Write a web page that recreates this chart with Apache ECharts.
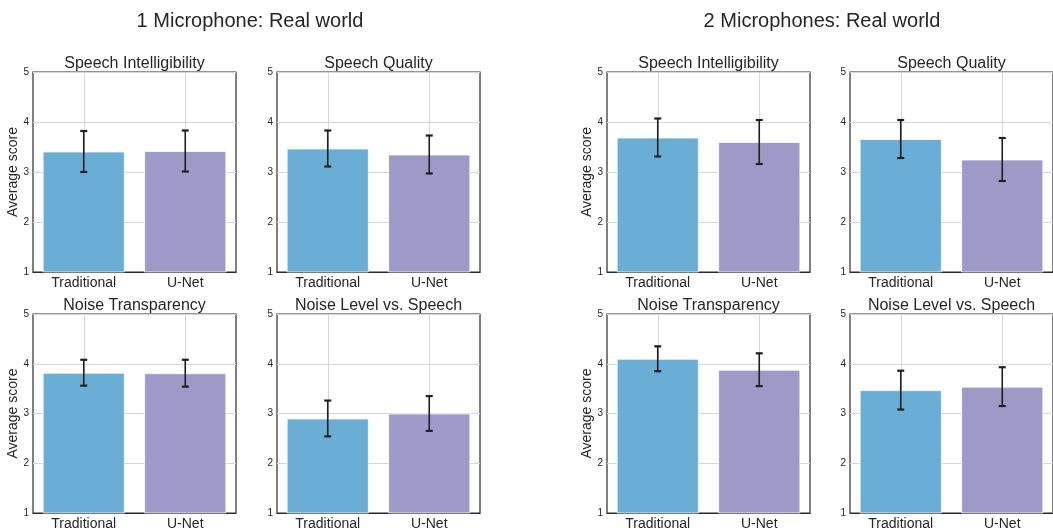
<!DOCTYPE html>
<html><head><meta charset="utf-8">
<script src="https://cdn.jsdelivr.net/npm/echarts@6/dist/echarts.min.js"></script>
<style>html,body{margin:0;padding:0;background:#fff}#c{width:1053px;height:531px}</style>
</head><body><div id="c"></div>
<script>
const categories = ['Traditional', 'U-Net'];
const groupTitles = ['1 Microphone: Real world', '2 Microphones: Real world'];
const panelTitles = ['Speech Intelligibility', 'Speech Quality', 'Noise Transparency', 'Noise Level vs. Speech'];
const yTicks = [1, 2, 3, 4, 5];
const yLabel = 'Average score';
// values: [Traditional, U-Net]
const mic1Intelligibility = [3.41, 3.42], mic1IntelligibilityErr = [0.41, 0.41];
const mic1Quality = [3.47, 3.35], mic1QualityErr = [0.36, 0.38];
const mic1Transparency = [3.82, 3.81], mic1TransparencyErr = [0.26, 0.27];
const mic1NoiseLevel = [2.90, 3.00], mic1NoiseLevelErr = [0.36, 0.35];
const mic2Intelligibility = [3.69, 3.60], mic2IntelligibilityErr = [0.38, 0.44];
const mic2Quality = [3.66, 3.25], mic2QualityErr = [0.38, 0.43];
const mic2Transparency = [4.10, 3.88], mic2TransparencyErr = [0.25, 0.33];
const mic2NoiseLevel = [3.47, 3.54], mic2NoiseLevelErr = [0.39, 0.39];

const barColors = ['#6aaed6', '#9e9ac8'];
const panels = [
  {v: mic1Intelligibility, e: mic1IntelligibilityErr, t: 0, col: 0, row: 0},
  {v: mic1Quality, e: mic1QualityErr, t: 1, col: 1, row: 0},
  {v: mic1Transparency, e: mic1TransparencyErr, t: 2, col: 0, row: 1},
  {v: mic1NoiseLevel, e: mic1NoiseLevelErr, t: 3, col: 1, row: 1},
  {v: mic2Intelligibility, e: mic2IntelligibilityErr, t: 0, col: 2, row: 0},
  {v: mic2Quality, e: mic2QualityErr, t: 1, col: 3, row: 0},
  {v: mic2Transparency, e: mic2TransparencyErr, t: 2, col: 2, row: 1},
  {v: mic2NoiseLevel, e: mic2NoiseLevelErr, t: 3, col: 3, row: 1}
];
const colLeft = [33, 277, 607, 850];
const colWidth = 203;
const rowTop = [72, 314];
const rowHeight = 200;
const textColor = '#262626';
const font = 'Liberation Sans, Arial, sans-serif';

const grid = [], xAxis = [], yAxis = [], series = [], graphic = [];
panels.forEach((p, i) => {
  grid.push({left: colLeft[p.col], top: rowTop[p.row], width: colWidth, height: rowHeight,
    show: true, borderColor: '#2b2b2b', borderWidth: 1.2, backgroundColor: '#fff'});
  xAxis.push({type: 'category', gridIndex: i, data: categories,
    axisLine: {show: true, lineStyle: {color: '#2b2b2b', width: 1.2}},
    axisTick: {show: false},
    axisLabel: {color: textColor, fontSize: 14, fontFamily: font, margin: 4},
    splitLine: {show: true, alignWithLabel: true, lineStyle: {color: '#d6d6d6', width: 1}}
  });
  yAxis.push({type: 'value', gridIndex: i, min: yTicks[0], max: yTicks[yTicks.length - 1], interval: 1,
    name: p.col % 2 === 0 ? yLabel : '', nameLocation: 'middle', nameGap: 13, nameMoveOverlap: false,
    nameTextStyle: {color: textColor, fontSize: 14, fontFamily: font},
    axisLine: {show: false}, axisTick: {show: false},
    axisLabel: {color: textColor, fontSize: 10, fontFamily: font, margin: 4},
    splitLine: {show: true, lineStyle: {color: '#d6d6d6', width: 1}}
  });
  series.push({type: 'bar', xAxisIndex: i, yAxisIndex: i, barWidth: '81%', clip: true,
    data: p.v.map((v, k) => ({value: v, itemStyle: {color: barColors[k], borderColor: 'rgba(255,255,255,0.75)', borderWidth: 1}}))
  });
  series.push({type: 'custom', xAxisIndex: i, yAxisIndex: i, z: 10,
    data: p.v.map((v, k) => [k, v - p.e[k], v + p.e[k]]),
    renderItem: function (params, api) {
      const lo = api.coord([api.value(0), api.value(1)]);
      const hi = api.coord([api.value(0), api.value(2)]);
      const cap = 3.5;
      const st = {stroke: '#1f1f1f', lineWidth: 1.6};
      return {type: 'group', children: [
        {type: 'line', shape: {x1: lo[0], y1: lo[1], x2: hi[0], y2: hi[1]}, style: st},
        {type: 'line', shape: {x1: lo[0] - cap, y1: lo[1], x2: lo[0] + cap, y2: lo[1]}, style: {stroke: '#1f1f1f', lineWidth: 2.2}},
        {type: 'line', shape: {x1: hi[0] - cap, y1: hi[1], x2: hi[0] + cap, y2: hi[1]}, style: {stroke: '#1f1f1f', lineWidth: 2.2}}
      ]};
    }
  });
  graphic.push({type: 'text', x: colLeft[p.col] + colWidth / 2, y: rowTop[p.row] - 8,
    style: {text: panelTitles[p.t], fill: textColor, font: '16px ' + font, textAlign: 'center', textVerticalAlign: 'middle'}});
});
graphic.push({type: 'text', x: 250, y: 21, style: {text: groupTitles[0], fill: textColor, font: '20px ' + font, textAlign: 'center', textVerticalAlign: 'middle'}});
graphic.push({type: 'text', x: 822, y: 21, style: {text: groupTitles[1], fill: textColor, font: '20px ' + font, textAlign: 'center', textVerticalAlign: 'middle'}});

const chart = echarts.init(document.getElementById('c'), null, {renderer: 'canvas'});
chart.setOption({animation: false, backgroundColor: '#fff', grid, xAxis, yAxis, series, graphic});
</script></body></html>
